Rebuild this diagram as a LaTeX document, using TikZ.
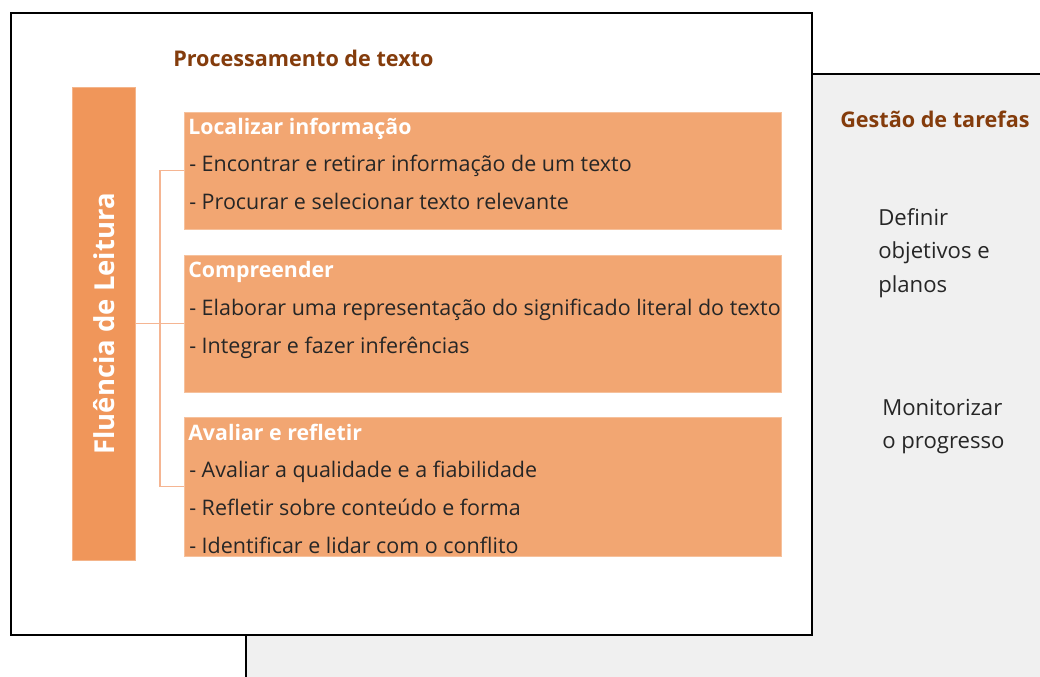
\documentclass[tikz,border=0pt]{standalone}
\usepackage{fontspec}
\setmainfont{Open Sans}
\definecolor{barorange}{HTML}{F0965A}
\definecolor{boxorange}{HTML}{F2A672}
\definecolor{connorange}{HTML}{F5B592}
\definecolor{titlebrown}{HTML}{843C0C}
\definecolor{panelgrey}{HTML}{F0F0F0}
\begin{document}
\begin{tikzpicture}[x=0.75pt,y=-0.75pt,
  frame/.style={draw=black,line width=1.5pt},
  itembox/.style={fill=boxorange,draw=boxorange!70!white,line width=0.5pt,inner sep=0pt,anchor=north west,minimum width=447.75pt},
  boxtitle/.style={anchor=base west,inner sep=0pt,text=white,font=\fontsize{16}{18}\selectfont\bfseries},
  boxitem/.style={anchor=base west,inner sep=0pt,text=black!85,font=\fontsize{16.1}{18}\selectfont},
  heading/.style={anchor=base west,inner sep=0pt,text=titlebrown,font=\fontsize{16.2}{18}\selectfont\bfseries},
  greytext/.style={anchor=base west,inner sep=0pt,text=black!85,font=\fontsize{16.6}{18}\selectfont},
  conn/.style={draw=connorange,line width=1pt}]
\useasboundingbox (0,0) rectangle (1040,677);
% grey panel
\fill[panelgrey] (246,74) rectangle (1040,677);
\draw[frame] (246,677) -- (246,74) -- (1040,74);
% white panel
\fill[white] (11,13) rectangle (812,635);
\draw[frame] (11,13) rectangle (812,635);
% headings
\node[heading] (proc) at (173,67) {Processamento de texto};
\node[heading] (gest) at (840,128) {Gestão de tarefas};
% bar
\node[fill=barorange,draw=barorange!70!white,line width=0.5pt,inner sep=0pt,anchor=north west,minimum width=47.25pt,minimum height=354.75pt] (bar) at (72,87) {};
\node[rotate=90,text=white,font=\fontsize{20.6}{22}\selectfont\bfseries,inner sep=0pt] (fl) at (bar.center) {Fluência de Leitura};
% boxes
\node[itembox,minimum height=87.75pt] (box1) at (184,112) {};
\node[itembox,minimum height=102.75pt] (box2) at (184,255) {};
\node[itembox,minimum height=104.25pt] (box3) at (184,417) {};
% connectors
\draw[conn] (bar.east) -- (box2.west);
\draw[conn] (box1.west) -- ++(-24,0) |- (box3.west);
% box 1
\node[boxtitle] (t1) at (188,134.5) {Localizar informação};
\node[boxitem] (i11) at (189,171.5) {- Encontrar e retirar informação de um texto};
\node[boxitem] (i12) at (189,209.5) {- Procurar e selecionar texto relevante};
% box 2
\node[boxtitle] (t2) at (188,277.5) {Compreender};
\node[boxitem] (i21) at (189,315.5) {- Elaborar uma representação do significado literal do texto};
\node[boxitem] (i22) at (189,353.5) {- Integrar e fazer inferências};
% box 3
\node[boxtitle] (t3) at (188,440.5) {Avaliar e refletir};
\node[boxitem] (i31) at (189,477.5) {- Avaliar a qualidade e a fiabilidade};
\node[boxitem] (i32) at (189,515.5) {- Refletir sobre conteúdo e forma};
\node[boxitem] (i33) at (189,553.5) {- Identificar e lidar com o conflito};
% grey texts
\node[greytext] (g1) at (878,226) {Definir};
\node[greytext] (g2) at (878,259) {objetivos e};
\node[greytext] (g3) at (878,293) {planos};
\node[greytext] (g4) at (882,416) {Monitorizar};
\node[greytext] (g5) at (882,449) {o progresso};
\end{tikzpicture}
\end{document}
